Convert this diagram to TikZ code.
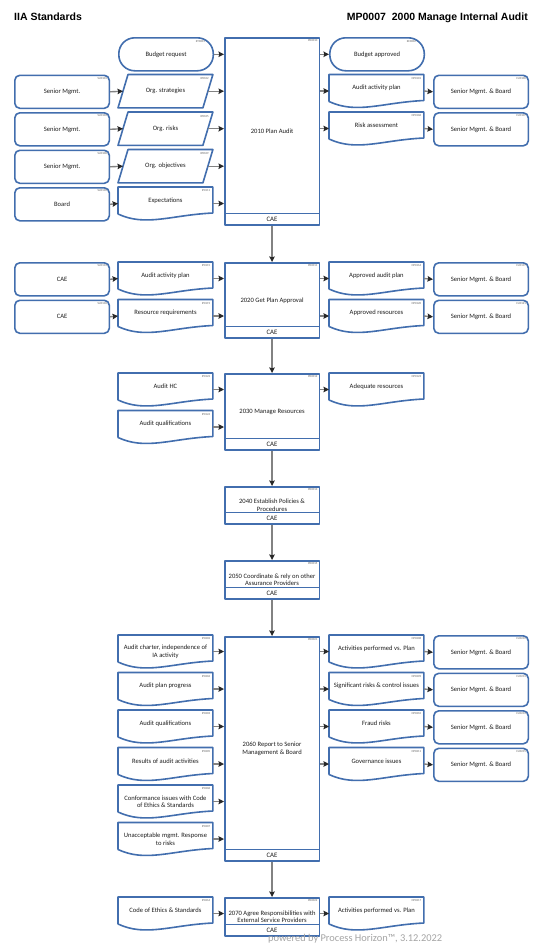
\documentclass[tikz,border=0pt]{standalone}
\usepackage{fontspec}
\setmainfont{Carlito}
\newfontfamily\titlefont{Liberation Sans}
\usetikzlibrary{arrows.meta}
\definecolor{bordc}{RGB}{66,110,174}
\definecolor{linec}{RGB}{130,130,130}
\definecolor{tipc}{RGB}{40,40,40}
\definecolor{txtc}{RGB}{30,30,30}
\definecolor{idc}{RGB}{95,95,95}
\definecolor{footc}{RGB}{165,165,165}
\tikzset{
 shp/.style={draw=bordc, line width=1.6pt, line join=round},
 base/.style={inner sep=0pt, minimum width=94.5pt, minimum height=33pt, anchor=north west, font=\fontsize{6.6}{7.6}\selectfont, text=txtc, align=center},
 rbox/.style={base, shp, rounded corners=5pt},
 termbox/.style={base, shp, rounded corners=16pt},
 hidden/.style={base},
 procbox/.style={base, shp},
 idl/.style={inner sep=0pt, anchor=north east, font=\fontsize{3}{3}\selectfont, text=idc},
 caef/.style={inner sep=0pt, font=\fontsize{6.8}{7}\selectfont, text=txtc},
 flow/.style={draw=linec, line width=1.4pt, -{Stealth[length=5.5pt,width=5.5pt,inset=0.8pt,color=tipc]}},
}
\newcommand\SrcBox[4]{\node[rbox] (#1) at (#2) {#3};\node[idl] (#1id) at ([xshift=-3pt,yshift=-2.5pt]#1.north east) {#4};}
\newcommand\TermBox[4]{\node[termbox] (#1) at (#2) {#3};\node[idl] (#1id) at ([xshift=-9pt,yshift=-3pt]#1.north east) {#4};}
\newcommand\ParaBox[4]{\node[hidden] (#1) at (#2) {#3};\draw[shp] ([xshift=10pt]#1.north west) -- (#1.north east) -- ([xshift=-10pt]#1.south east) -- (#1.south west) -- cycle;\node[idl] (#1id) at ([xshift=-4pt,yshift=-3pt]#1.north east) {#4};}
\newcommand\DocBox[5][27]{\node[hidden, minimum height=#1pt] (#2) at (#3) {#4};\draw[shp] ([yshift=-27pt]#2.north west) -- (#2.north west) -- (#2.north east) -- ([yshift=-26pt]#2.north east) .. controls ([xshift=-42pt,yshift=-28pt]#2.north east) and ([xshift=28pt,yshift=-40pt]#2.north west) .. ([yshift=-27pt]#2.north west);\node[idl] (#2id) at ([xshift=-2.5pt,yshift=-2.5pt]#2.north east) {#5};\coordinate (#2l) at ([yshift=-16.5pt]#2.north west);\coordinate (#2r) at ([yshift=-16.5pt]#2.north east);}
\newcommand\ProcBox[5]{\node[procbox, minimum height=#3pt] (#1) at (#2) {#4};\draw[shp] ([yshift=12pt]#1.south west) -- ([yshift=12pt]#1.south east);\node[caef] (#1cae) at ([yshift=6pt]#1.south) {CAE};\node[idl] (#1id) at ([xshift=-2.5pt,yshift=-2.5pt]#1.north east) {#5};}
\begin{document}
\begin{tikzpicture}[x=1pt,y=-1pt]
\useasboundingbox[fill=white] (0,0) rectangle (541,946);
% titles
\node[anchor=base west, inner sep=0pt, font=\titlefont\bfseries\fontsize{10.5}{12}\selectfont] (title) at (14,20) {IIA Standards};
\node[anchor=base east, inner sep=0pt, font=\titlefont\bfseries\fontsize{10.5}{12}\selectfont] (title2) at (528,20) {MP0007\ \ 2000 Manage Internal Audit};
% ---------- 2010
\TermBox{budreq}{118,37}{Budget request}{ET0001}
\ProcBox{p2010}{224,37}{187}{2010 Plan Audit}{PR0010}
\TermBox{budapp}{329,37}{Budget approved}{EC0002}
\SrcBox{su0103}{14,74.5}{Senior Mgmt.}{SU0103}
\ParaBox{ip0102}{118,74.5}{Org. strategies}{IP0102}
\SrcBox{su0104}{14,112}{Senior Mgmt.}{SU0104}
\ParaBox{ip0105}{118,112}{Org. risks}{IP0105}
\SrcBox{su0108}{14,149.5}{Senior Mgmt.}{SU0108}
\ParaBox{ip0109}{118,149.5}{Org. objectives}{IP0109}
\SrcBox{su0110}{14,187}{Board}{SU0110}
\DocBox{ip0111}{118,187}{Expectations}{IP0111}
\DocBox{op0101}{329,74.5}{Audit activity plan}{OP0101}
\SrcBox{cu0100}{433,74.5}{Senior Mgmt. \& Board}{CU0100}
\DocBox{op0106}{329,112}{Risk assessment}{OP0106}
\SrcBox{cu0107}{433,112}{Senior Mgmt. \& Board}{CU0107}
\draw[flow] (budreq.east) -- (budreq.east -| p2010.west);
\draw[flow] (su0103.east) -- ([xshift=5pt]ip0102.west);
\draw[flow] ([xshift=-5pt]ip0102.east) -- (ip0102.east -| p2010.west);
\draw[flow] (su0104.east) -- ([xshift=5pt]ip0105.west);
\draw[flow] ([xshift=-5pt]ip0105.east) -- (ip0105.east -| p2010.west);
\draw[flow] (su0108.east) -- ([xshift=5pt]ip0109.west);
\draw[flow] ([xshift=-5pt]ip0109.east) -- (ip0109.east -| p2010.west);
\draw[flow] (su0110.east) -- (ip0111l);
\draw[flow] (ip0111r) -- (ip0111r -| p2010.west);
\draw[flow] (p2010.east |- budapp.west) -- (budapp.west);
\draw[flow] (p2010.east |- op0101l) -- (op0101l);
\draw[flow] (op0101r) -- (cu0100.west);
\draw[flow] (p2010.east |- op0106l) -- (op0106l);
\draw[flow] (op0106r) -- (cu0107.west);
% ---------- 2020
\SrcBox{su0114}{14,262}{CAE}{SU0114}
\DocBox{ip0115}{118,262}{Audit activity plan}{IP0115}
\ProcBox{p2020}{224,262}{75}{2020 Get Plan Approval}{PR0011}
\DocBox{op0116}{329,262}{Approved audit plan}{OP0116}
\SrcBox{cu0117}{433,262}{Senior Mgmt. \& Board}{CU0117}
\SrcBox{su0118}{14,299.5}{CAE}{SU0118}
\DocBox{ip0119}{118,299.5}{Resource requirements}{IP0119}
\DocBox{op0120}{329,299.5}{Approved resources}{OP0120}
\SrcBox{cu0121}{433,299.5}{Senior Mgmt. \& Board}{CU0121}
\draw[flow] (su0114.east) -- (ip0115l);
\draw[flow] (ip0115r) -- (ip0115r -| p2020.west);
\draw[flow] (su0118.east) -- (ip0119l);
\draw[flow] (ip0119r) -- (ip0119r -| p2020.west);
\draw[flow] (p2020.east |- op0116l) -- (op0116l);
\draw[flow] (op0116r) -- (cu0117.west);
\draw[flow] (p2020.east |- op0120l) -- (op0120l);
\draw[flow] (op0120r) -- (cu0121.west);
% ---------- 2030
\DocBox{ip0122}{118,373}{Audit HC}{IP0122}
\ProcBox{p2030}{224,373}{76}{2030 Manage Resources}{PR0012}
\DocBox{op0123}{329,373}{Adequate resources}{OP0123}
\DocBox{ip0124}{118,410.5}{Audit qualifications}{IP0124}
\draw[flow] (ip0122r) -- (ip0122r -| p2030.west);
\draw[flow] (ip0124r) -- (ip0124r -| p2030.west);
\draw[flow] (p2030.east |- op0123l) -- (op0123l);
% ---------- 2040 / 2050
\ProcBox{p2040}{224,486}{37}{2040 Establish Policies \&\\Procedures}{PR0013}
\ProcBox{p2050}{224,560}{38}{2050 Coordinate \& rely on other\\Assurance Providers}{PR0015}
% ---------- 2060
\ProcBox{p2060}{224,636}{224}{2060 Report to Senior\\Management \& Board}{PR0021}
\DocBox[33]{ip0202}{118,635}{Audit charter, independence of\\IA activity}{IP0202}
\DocBox{ip0204}{118,672.5}{Audit plan progress}{IP0204}
\DocBox{ip0203}{118,710}{Audit qualifications}{IP0203}
\DocBox{ip0205}{118,747.5}{Results of audit activities}{IP0205}
\DocBox[33]{ip0206}{118,785}{Conformance issues with Code\\of Ethics \& Standards}{IP0206}
\DocBox[33]{ip0207}{118,822.5}{Unacceptable mgmt. Response\\to risks}{IP0207}
\DocBox{op0208}{329,635}{Activities performed vs. Plan}{OP0208}
\SrcBox{cu0212}{433,635}{Senior Mgmt. \& Board}{CU0212}
\DocBox{op0209}{329,672.5}{Significant risks \& control issues}{OP0209}
\SrcBox{cu0213}{433,672.5}{Senior Mgmt. \& Board}{CU0213}
\DocBox{op0210}{329,710}{Fraud risks}{OP0210}
\SrcBox{cu0214}{433,710}{Senior Mgmt. \& Board}{CU0214}
\DocBox{op0211}{329,747.5}{Governance issues}{OP0211}
\SrcBox{cu0215}{433,747.5}{Senior Mgmt. \& Board}{CU0215}
\foreach \n in {ip0202,ip0204,ip0203,ip0205,ip0206,ip0207}{\draw[flow] (\n r) -- (\n r -| p2060.west);}
\draw[flow] (p2060.east |- op0208l) -- (op0208l);
\draw[flow] (op0208r) -- (cu0212.west);
\draw[flow] (p2060.east |- op0209l) -- (op0209l);
\draw[flow] (op0209r) -- (cu0213.west);
\draw[flow] (p2060.east |- op0210l) -- (op0210l);
\draw[flow] (op0210r) -- (cu0214.west);
\draw[flow] (p2060.east |- op0211l) -- (op0211l);
\draw[flow] (op0211r) -- (cu0215.west);
% ---------- 2070
\DocBox{ip0216}{118,897}{Code of Ethics \& Standards}{IP0216}
\ProcBox{p2070}{224,897}{38}{2070 Agree Responsibilities with\\External Service Providers}{PR0022}
\DocBox{op0217}{329,897}{Activities performed vs. Plan}{OP0217}
\draw[flow] (ip0216r) -- (ip0216r -| p2070.west);
\draw[flow] (p2070.east |- op0217l) -- (op0217l);
% process chain
\draw[flow] (p2010.south) -- (p2020.north);
\draw[flow] (p2020.south) -- (p2030.north);
\draw[flow] (p2030.south) -- (p2040.north);
\draw[flow] (p2040.south) -- (p2050.north);
\draw[flow] (p2050.south) -- (p2060.north);
\draw[flow] (p2060.south) -- (p2070.north);
% footer
\node[anchor=base west, inner sep=0pt, font=\fontsize{10.4}{11}\selectfont, text=footc] (foot) at (268,941) {powered by Process Horizon™, 3.12.2022};
\end{tikzpicture}
\end{document}
